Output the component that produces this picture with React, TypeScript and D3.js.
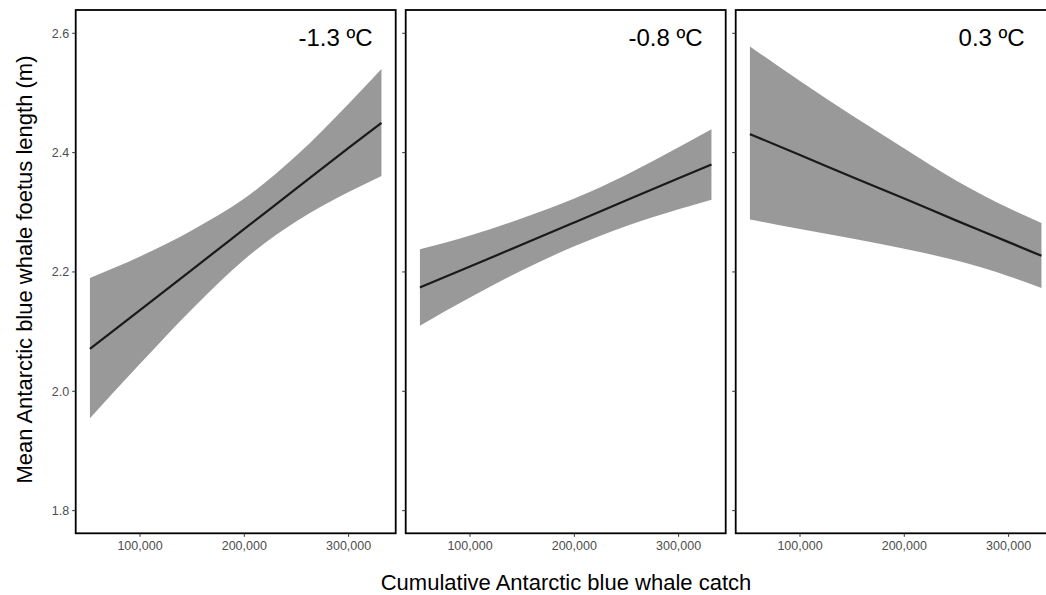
import React from "react";
import * as d3 from "d3";

const panelLabels = ["-1.3 ºC", "-0.8 ºC", "0.3 ºC"];
const catchX = [52000, 100000, 150000, 200000, 250000, 300000, 331500];

const fit1 = [2.071, 2.136, 2.204, 2.272, 2.34, 2.408, 2.45];
const upper1 = [2.19, 2.226, 2.27, 2.323, 2.395, 2.482, 2.54];
const lower1 = [1.955, 2.046, 2.138, 2.221, 2.285, 2.334, 2.361];

const fit2 = [2.174, 2.209, 2.246, 2.283, 2.32, 2.357, 2.38];
const upper2 = [2.238, 2.261, 2.29, 2.323, 2.363, 2.409, 2.439];
const lower2 = [2.11, 2.157, 2.203, 2.243, 2.277, 2.305, 2.321];

const fit3 = [2.431, 2.396, 2.359, 2.323, 2.286, 2.25, 2.227];
const upper3 = [2.578, 2.52, 2.462, 2.407, 2.353, 2.307, 2.282];
const lower3 = [2.288, 2.272, 2.256, 2.239, 2.219, 2.193, 2.173];

const fits = [fit1, fit2, fit3];
const uppers = [upper1, upper2, upper3];
const lowers = [lower1, lower2, lower3];

const xTicks = [100000, 200000, 300000];
const yTicks = [1.8, 2.0, 2.2, 2.4, 2.6];
const labelX = 252000;
const labelY = 2.579;

const W = 1046;
const H = 595;
const panelLefts = [75.7, 405.7, 735.7];
const panelW = 320;
const top = 10;
const bottom = 533.3;
const font = "'Liberation Sans', Arial, Helvetica, sans-serif";

export default function App() {
  const y = d3.scaleLinear().domain([1.762, 2.639]).range([bottom, top]);
  const fmt = d3.format(",");
  return (
    <div style={{ position: "absolute", left: 0, top: 0 }}>
      <svg width={W} height={H} style={{ display: "block", background: "#fff" }}>
        {panelLefts.map((pl, i) => {
          const x = d3.scaleLinear().domain([38350, 345150]).range([pl, pl + panelW]);
          const idx = d3.range(catchX.length);
          const area = d3
            .area<number>()
            .x((j) => x(catchX[j]))
            .y0((j) => y(lowers[i][j]))
            .y1((j) => y(uppers[i][j]))
            .curve(d3.curveMonotoneX);
          const line = d3
            .line<number>()
            .x((j) => x(catchX[j]))
            .y((j) => y(fits[i][j]))
            .curve(d3.curveMonotoneX);
          return (
            <g key={i}>
              <path d={area(idx) || ""} fill="#999999" stroke="none" />
              <path d={line(idx) || ""} fill="none" stroke="#1a1a1a" strokeWidth={2.2} />
              <rect x={pl} y={top} width={panelW} height={bottom - top} fill="none" stroke="#000" strokeWidth={1.8} />
              {yTicks.map((t) => (
                <g key={t}>
                  <line x1={pl - 3.5} x2={pl} y1={y(t)} y2={y(t)} stroke="#333" strokeWidth={1} />
                  {i === 0 && (
                    <text x={pl - 6.5} y={y(t)} dy="0.36em" textAnchor="end" fontSize={12.5} fill="#4d4d4d" fontFamily={font}>
                      {t.toFixed(1)}
                    </text>
                  )}
                </g>
              ))}
              {xTicks.map((t) => (
                <g key={t}>
                  <line x1={x(t)} x2={x(t)} y1={bottom} y2={bottom + 3.5} stroke="#333" strokeWidth={1} />
                  <text x={x(t)} y={bottom + 17} textAnchor="middle" fontSize={12.5} fill="#4d4d4d" fontFamily={font}>
                    {fmt(t)}
                  </text>
                </g>
              ))}
              <text x={x(labelX)} y={y(labelY)} textAnchor="start" fontSize={24} fill="#000" fontFamily={font}>
                {panelLabels[i]}
              </text>
            </g>
          );
        })}
        <text
          transform={`translate(31.5,269.5) rotate(-90)`}
          textAnchor="middle"
          fontSize={22}
          fill="#000"
          fontFamily={font}
        >
          Mean Antarctic blue whale foetus length (m)
        </text>
        <text x={566} y={590} textAnchor="middle" fontSize={22} fill="#000" fontFamily={font}>
          Cumulative Antarctic blue whale catch
        </text>
      </svg>
    </div>
  );
}
